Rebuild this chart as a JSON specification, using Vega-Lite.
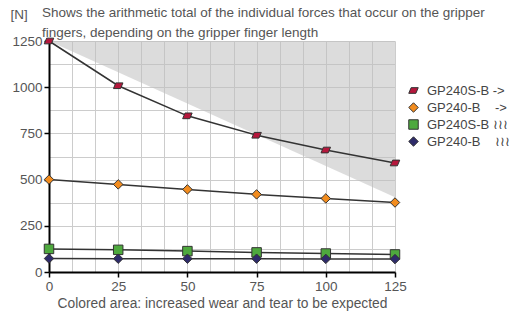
{
  "$schema": "https://vega.github.io/schema/vega-lite/v6.json",
  "width": 346,
  "height": 231,
  "autosize": "none",
  "padding": {"left": 49, "top": 41, "right": 117, "bottom": 43},
  "background": "white",
  "config": {"view": {"stroke": null}, "font": "Liberation Sans"},
  "title": {
    "text": ["Shows the arithmetic total of the individual forces that occur on the gripper", "fingers, depending on the gripper finger length"],
    "anchor": "start", "frame": "group", "dx": -7, "dy": 34, "offset": 2,
    "fontSize": 13.5, "fontWeight": "normal", "color": "#555555", "lineHeight": 19.5
  },
  "datasets": {
    "wear": [
      {"length": 0, "force": 1250, "upper": 1250},
      {"length": 125, "force": 405, "upper": 1250}
    ],
    "forces": [
      {"series": "GP240S-B ->", "length": 0, "force": 1250},
      {"series": "GP240S-B ->", "length": 25, "force": 1008},
      {"series": "GP240S-B ->", "length": 50, "force": 845},
      {"series": "GP240S-B ->", "length": 75, "force": 740},
      {"series": "GP240S-B ->", "length": 100, "force": 660},
      {"series": "GP240S-B ->", "length": 125, "force": 590},
      {"series": "GP240-B ->", "length": 0, "force": 500},
      {"series": "GP240-B ->", "length": 25, "force": 474},
      {"series": "GP240-B ->", "length": 50, "force": 447},
      {"series": "GP240-B ->", "length": 75, "force": 420},
      {"series": "GP240-B ->", "length": 100, "force": 398},
      {"series": "GP240-B ->", "length": 125, "force": 376},
      {"series": "GP240S-B spring", "length": 0, "force": 125},
      {"series": "GP240S-B spring", "length": 25, "force": 120},
      {"series": "GP240S-B spring", "length": 50, "force": 113},
      {"series": "GP240S-B spring", "length": 75, "force": 106},
      {"series": "GP240S-B spring", "length": 100, "force": 100},
      {"series": "GP240S-B spring", "length": 125, "force": 95},
      {"series": "GP240-B spring", "length": 0, "force": 73},
      {"series": "GP240-B spring", "length": 25, "force": 72},
      {"series": "GP240-B spring", "length": 50, "force": 72},
      {"series": "GP240-B spring", "length": 75, "force": 72},
      {"series": "GP240-B spring", "length": 100, "force": 71},
      {"series": "GP240-B spring", "length": 125, "force": 70}
    ]
  },
  "encoding": {
    "x": {
      "field": "length", "type": "quantitative",
      "scale": {"domain": [0, 125], "nice": false},
      "axis": {
        "values": [0, 8.3333, 16.6667, 25, 33.3333, 41.6667, 50, 58.3333, 66.6667, 75, 83.3333, 91.6667, 100, 108.3333, 116.6667, 125],
        "format": "d",
        "labelExpr": "datum.value % 25 === 0 ? datum.label : ''",
        "labelFlush": false, "labelOverlap": false,
        "grid": true, "gridColor": "#cccccc", "gridWidth": 1,
        "domainColor": "#000000", "domainWidth": 2,
        "tickColor": "#000000", "tickWidth": 1.5, "tickSize": 5,
        "tickOpacity": {"condition": {"test": "datum.value % 25 === 0", "value": 1}, "value": 0},
        "labelFontSize": 13.5, "labelColor": "#555555", "labelPadding": 2,
        "title": "Colored area: increased wear and tear to be expected",
        "titleY": 31, "titleBaseline": "middle",
        "titleFontSize": 13.8, "titleFontWeight": "normal", "titleColor": "#555555"
      }
    },
    "y": {
      "field": "force", "type": "quantitative",
      "scale": {"domain": [0, 1250], "nice": false},
      "axis": {
        "values": [0, 125, 250, 375, 500, 625, 750, 875, 1000, 1125, 1250],
        "format": "d",
        "labelExpr": "datum.value % 250 === 0 ? datum.label : ''",
        "labelOverlap": false,
        "grid": true, "gridColor": "#cccccc", "gridWidth": 1,
        "domainColor": "#000000", "domainWidth": 2,
        "tickColor": "#000000", "tickWidth": 1.5, "tickSize": 5,
        "tickOpacity": {"condition": {"test": "datum.value % 250 === 0", "value": 1}, "value": 0},
        "labelFontSize": 13.5, "labelColor": "#555555", "labelPadding": 2,
        "title": "[N]", "titleAngle": 0, "titleX": -39, "titleY": -27,
        "titleAlign": "left", "titleBaseline": "middle",
        "titleFontSize": 13.5, "titleFontWeight": "normal", "titleColor": "#555555"
      }
    }
  },
  "layer": [
    {
      "data": {"name": "wear"},
      "mark": {"type": "area", "color": "#c0c0c0", "opacity": 0.55},
      "encoding": {"y2": {"field": "upper"}}
    },
    {
      "data": {"name": "forces"},
      "mark": {"type": "line", "color": "#333333", "strokeWidth": 1.5},
      "encoding": {"detail": {"field": "series"}}
    },
    {
      "data": {"name": "forces"},
      "mark": {"type": "point", "filled": true, "opacity": 1, "stroke": "#333333", "strokeWidth": 1, "size": 90},
      "encoding": {
        "color": {
          "field": "series", "type": "nominal",
          "scale": {
            "domain": ["GP240S-B ->", "GP240-B ->", "GP240S-B spring", "GP240-B spring"],
            "range": ["#b5173c", "#f28c1e", "#4ea93e", "#2e2b6a"]
          },
          "legend": {
            "orient": "none", "legendX": 358, "legendY": 43, "title": null,
            "labelFontSize": 13, "labelColor": "#444444", "labelLimit": 400,
            "symbolSize": 90, "rowPadding": 2, "labelOffset": 7,
            "symbolStrokeColor": "#333333", "symbolStrokeWidth": 1,
            "labelExpr": "datum.value == 'GP240S-B ->' ? 'GP240S-B ->' : datum.value == 'GP240-B ->' ? 'GP240-B\u00a0\u00a0\u00a0 ->' : datum.value == 'GP240S-B spring' ? 'GP240S-B \u2240\u2240\u2240' : 'GP240-B\u00a0\u00a0\u00a0 \u2240\u2240\u2240'"
          }
        },
        "shape": {
          "field": "series", "type": "nominal",
          "scale": {
            "domain": ["GP240S-B ->", "GP240-B ->", "GP240S-B spring", "GP240-B spring"],
            "range": ["M-1,0.6L-0.5,-0.6L1,-0.6L0.5,0.6Z", "diamond", "square", "diamond"]
          },
          "legend": {
            "orient": "none", "legendX": 358, "legendY": 43, "title": null,
            "labelFontSize": 13, "labelColor": "#444444", "labelLimit": 400,
            "symbolSize": 90, "rowPadding": 2, "labelOffset": 7,
            "symbolStrokeColor": "#333333", "symbolStrokeWidth": 1,
            "labelExpr": "datum.value == 'GP240S-B ->' ? 'GP240S-B ->' : datum.value == 'GP240-B ->' ? 'GP240-B\u00a0\u00a0\u00a0 ->' : datum.value == 'GP240S-B spring' ? 'GP240S-B \u2240\u2240\u2240' : 'GP240-B\u00a0\u00a0\u00a0 \u2240\u2240\u2240'"
          }
        }
      }
    },
    {
      "data": {"values": [{}]},
      "mark": {"type": "text", "align": "left", "baseline": "middle", "dx": 3, "dy": 17, "fontSize": 13.5, "color": "#555555"},
      "encoding": {
        "x": {"datum": 125, "type": "quantitative"},
        "y": {"datum": 0, "type": "quantitative"},
        "text": {"value": "[mm]"}
      }
    }
  ]
}
